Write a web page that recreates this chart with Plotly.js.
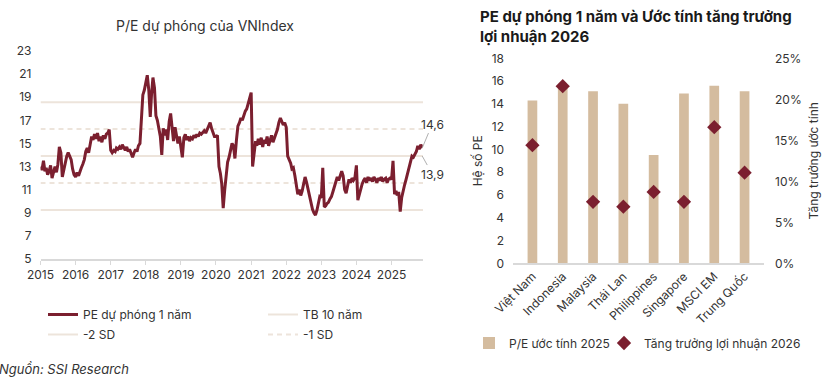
<!DOCTYPE html>
<html><head><meta charset="utf-8">
<script src="https://cdn.plot.ly/plotly-3.0.1.min.js"></script>
<style>html,body{margin:0;padding:0;background:#fff}#chart{width:831px;height:389px}</style>
</head><body><div id="chart"></div>
<script>
// ---- Left chart: P/E dự phóng của VNIndex (semi-monthly readings) ----
const pe2015 = [13.0, 12.7, 13.5, 12.6, 12.9, 12.3, 12.6, 13.1, 12.0, 12.4, 13.0, 12.5, 13.2, 14.7, 14.2, 12.1, 12.8, 13.4, 13.9, 14.2, 13.8, 13.6, 12.8, 12.3];
const pe2016 = [12.1, 12.5, 12.2, 12.7, 12.9, 13.2, 13.6, 14.3, 14.6, 14.2, 15.0, 15.6, 15.3, 15.8, 15.4, 15.9, 15.2, 15.6, 15.1, 15.7, 15.4, 15.8, 15.9, 16.2];
const pe2017 = [14.4, 14.2, 14.4, 14.3, 14.6, 14.5, 14.7, 14.5, 14.9, 14.6, 14.4, 14.7, 14.3, 14.5, 14.1, 13.8, 14.2, 14.5, 14.3, 14.8, 15.0, 17.0, 19.2, 19.6];
const pe2018 = [20.2, 20.9, 19.6, 17.3, 19.2, 20.7, 19.8, 17.4, 17.0, 16.1, 15.6, 14.0, 16.3, 15.7, 16.2, 15.3, 16.9, 17.6, 16.3, 15.2, 16.4, 15.6, 15.0, 15.6];
const pe2019 = [14.8, 13.8, 15.5, 15.8, 15.3, 15.6, 15.2, 15.5, 15.4, 15.7, 15.5, 15.8, 15.6, 15.9, 15.8, 16.0, 16.1, 15.9, 16.2, 16.4, 16.8, 16.3, 15.9, 15.6];
const pe2020 = [15.6, 15.7, 13.0, 12.4, 11.5, 9.4, 11.0, 12.2, 13.4, 13.8, 14.6, 15.0, 14.8, 13.7, 15.3, 16.5, 16.8, 17.2, 17.0, 17.5, 17.8, 18.0, 18.5, 18.9];
const pe2021 = [19.4, 13.0, 14.5, 15.2, 14.8, 15.4, 14.9, 15.5, 14.7, 15.3, 15.0, 15.6, 14.8, 15.2, 15.7, 15.1, 15.5, 15.8, 16.2, 16.8, 17.2, 16.9, 16.6, 16.8];
const pe2022 = [16.4, 13.9, 13.6, 13.3, 12.8, 12.9, 12.2, 11.3, 10.6, 11.0, 10.5, 10.9, 11.5, 12.1, 11.6, 11.0, 10.2, 9.6, 9.3, 9.0, 8.8, 9.2, 10.0, 10.4];
const pe2023 = [10.3, 12.9, 9.5, 9.6, 9.8, 9.9, 10.2, 10.4, 10.8, 11.3, 11.6, 12.1, 11.8, 12.3, 12.6, 12.2, 11.0, 10.7, 11.4, 11.9, 11.6, 12.0, 11.8, 12.0];
const pe2024 = [13.1, 10.1, 10.6, 11.2, 11.5, 11.8, 12.0, 11.6, 12.1, 11.8, 12.0, 11.7, 12.1, 11.9, 11.6, 12.0, 11.8, 12.1, 11.7, 11.9, 12.0, 11.6, 11.9, 12.0];
const pe2025 = [11.9, 13.5, 10.6, 10.9, 10.5, 10.8, 9.1, 10.3, 11.0, 11.4, 11.9, 12.4, 12.8, 13.3, 13.9, 13.8, 14.0, 14.3, 14.8, 14.5, 14.9, 14.6];
const peYears = [2015, 2016, 2017, 2018, 2019, 2020, 2021, 2022, 2023, 2024, 2025];
const peSeries = [pe2015, pe2016, pe2017, pe2018, pe2019, pe2020, pe2021, pe2022, pe2023, pe2024, pe2025];
const halfMonthDays = ['01', '16'];

const refNames = ['TB 10 năm', '-2 SD', '-1 SD', '+1 SD', '+2 SD'];
const refValues = [13.91, 9.25, 11.58, 16.24, 18.57];
const refDash = ['solid', 'solid', 'dash', 'dash', 'solid'];
const refInLegend = [true, true, true, false, false];
const xStart = '2015-01-01', xEnd = '2025-11-24';
const leftYTicks = [5, 7, 9, 11, 13, 15, 17, 19, 21, 23];
const lastLabels = ['14,6', '13,9'];
const lastLabelValues = [14.6, 13.91];

// ---- Right chart ----
const countries = ['Việt Nam', 'Indonesia', 'Malaysia', 'Thái Lan', 'Philippines', 'Singapore', 'MSCI EM', 'Trung Quốc'];
const peEst2025 = [14.3, 15.6, 15.1, 14.0, 9.5, 14.9, 15.6, 15.1];
const growth2026 = [0.144, 0.216, 0.075, 0.069, 0.087, 0.075, 0.166, 0.1105];

// build dates
const dates = [], pes = [];
peSeries.forEach((arr, yi) => {
  arr.forEach((v, i) => {
    const m = Math.floor(i / 2) + 1;
    dates.push(peYears[yi] + '-' + String(m).padStart(2, '0') + '-' + halfMonthDays[i % 2]);
    pes.push(v);
  });
});

const maroon = '#7b1f2f';
const refColor = '#ede4db';
const tan = '#d4bc9f';
const txt = '#333333';
const FONT = 'Inter, "Liberation Sans", Arial, sans-serif';

const traces = [];
traces.push({
  x: dates, y: pes, type: 'scatter', mode: 'lines', name: 'PE dự phóng 1 năm',
  line: {color: maroon, width: 3}, xaxis: 'x', yaxis: 'y', legend: 'legend'
});
refNames.forEach((n, i) => {
  traces.push({
    x: [xStart, xEnd], y: [refValues[i], refValues[i]], type: 'scatter', mode: 'lines',
    name: n, line: {color: refColor, width: 2, dash: refDash[i] === 'dash' ? '5px,4px' : 'solid'},
    showlegend: refInLegend[i], legend: (n === 'TB 10 năm') ? 'legend' : 'legend2',
    xaxis: 'x', yaxis: 'y', hoverinfo: 'skip'
  });
});
// keep the PE line drawn above reference lines
traces.push(traces.shift());
traces[traces.length - 1].legendrank = 1;
traces.forEach(t => { if (t.name === 'TB 10 năm') t.legendrank = 2; if (t.name === '-2 SD') t.legendrank = 1; if (t.name === '-1 SD') t.legendrank = 2; });

traces.push({
  x: countries, y: peEst2025, type: 'bar', name: 'P/E ước tính 2025',
  marker: {color: tan}, width: 0.32, xaxis: 'x2', yaxis: 'y2', legend: 'legend3'
});
traces.push({
  x: countries, y: growth2026, type: 'scatter', mode: 'markers', name: 'Tăng trưởng lợi nhuận 2026',
  marker: {symbol: 'diamond', color: maroon, size: 11}, xaxis: 'x2', yaxis: 'y3', legend: 'legend4'
});

const W = 831, H = 389;
const px = v => v / W, py = v => 1 - v / H;

const lastX = dates[dates.length - 1];
const legendCommon = {orientation: 'h', font: {size: 12, color: txt}, bgcolor: 'rgba(0,0,0,0)', traceorder: 'normal'};
const layout = {
  width: W, height: H, margin: {l: 0, r: 0, t: 0, b: 0},
  paper_bgcolor: '#fff', plot_bgcolor: 'rgba(0,0,0,0)',
  font: {family: FONT, size: 12, color: txt},
  xaxis: {
    domain: [px(40.5), px(423)], type: 'date', range: [xStart, xEnd],
    dtick: 'M12', tick0: '2015-01-01', tickformat: '%Y',
    showgrid: false, zeroline: false, showline: true, linecolor: '#d9d9d9', linewidth: 1.5,
    ticks: 'outside', ticklen: 4, tickcolor: '#d9d9d9', tickfont: {size: 12, color: txt},
    anchor: 'y'
  },
  yaxis: {
    domain: [py(259), py(51)], range: [5, 23], tickvals: leftYTicks,
    showgrid: false, zeroline: false, showline: false, ticks: '',
    tickfont: {size: 12, color: txt}, ticklabelstandoff: 8, anchor: 'x'
  },
  xaxis2: {
    domain: [px(513), px(764)], type: 'category', anchor: 'y2',
    showgrid: false, zeroline: false, showline: true, linecolor: '#d9d9d9', linewidth: 1.5,
    ticks: '', tickangle: -45, tickfont: {size: 12, color: txt}
  },
  yaxis2: {
    domain: [py(263.3), py(58.3)], range: [0, 18], dtick: 2, anchor: 'x2',
    showgrid: false, zeroline: false, showline: false, ticks: '',
    tickfont: {size: 12, color: txt}, ticklabelstandoff: 8,
    title: {text: 'Hệ số PE', font: {size: 12, color: txt}, standoff: 6}
  },
  yaxis3: {
    domain: [py(263.3), py(58.3)], range: [0, 0.25], dtick: 0.05, tickformat: '.0%',
    overlaying: 'y2', side: 'right', anchor: 'x2',
    showgrid: false, zeroline: false, showline: false, ticks: '',
    tickfont: {size: 12, color: txt}, ticklabelstandoff: 10,
    title: {text: 'Tăng trưởng ước tính', font: {size: 12, color: txt}, standoff: 8}
  },
  legend: Object.assign({}, legendCommon, {x: px(43), y: py(300), xanchor: 'left', yanchor: 'top',
    entrywidth: 175, entrywidthmode: 'pixels'}),
  legend2: Object.assign({}, legendCommon, {x: px(43), y: py(320), xanchor: 'left', yanchor: 'top',
    entrywidth: 175, entrywidthmode: 'pixels'}),
  legend3: Object.assign({}, legendCommon, {x: px(469), y: py(343), xanchor: 'left', yanchor: 'middle'}),
  legend4: Object.assign({}, legendCommon, {x: px(604), y: py(343), xanchor: 'left', yanchor: 'middle'}),
  annotations: [
    {text: 'P/E dự phóng của VNIndex', xref: 'paper', yref: 'paper', x: px(205), y: py(26),
     xanchor: 'center', yanchor: 'middle', showarrow: false, font: {size: 14, color: txt}},
    {text: '<b>PE dự phóng 1 năm và Ước tính tăng trưởng</b>', xref: 'paper', yref: 'paper',
     x: px(478), y: py(17), xanchor: 'left', yanchor: 'middle', align: 'left', showarrow: false,
     font: {size: 15, color: '#1a1a1a'}},
    {text: '<b>lợi nhuận 2026</b>', xref: 'paper', yref: 'paper',
     x: px(478), y: py(37), xanchor: 'left', yanchor: 'middle', align: 'left', showarrow: false,
     font: {size: 15, color: '#1a1a1a'}},
    {text: '<i>Nguồn: SSI Research</i>', xref: 'paper', yref: 'paper', x: px(-3), y: py(369),
     xanchor: 'left', yanchor: 'middle', showarrow: false, font: {size: 13, color: txt}},
    {text: lastLabels[0], xref: 'x', yref: 'y', x: lastX, y: lastLabelValues[0], ax: 10, ay: -24,
     showarrow: true, arrowhead: 0, arrowwidth: 1, arrowcolor: '#b0b0b0', font: {size: 12, color: txt}},
    {text: lastLabels[1], xref: 'x', yref: 'y', x: lastX, y: lastLabelValues[1], ax: 10, ay: 18,
     showarrow: true, arrowhead: 0, arrowwidth: 1, arrowcolor: '#b0b0b0', font: {size: 12, color: txt}}
  ],
  showlegend: true
};

Plotly.newPlot('chart', traces, layout, {displayModeBar: false, staticPlot: true});
</script>
</body></html>
